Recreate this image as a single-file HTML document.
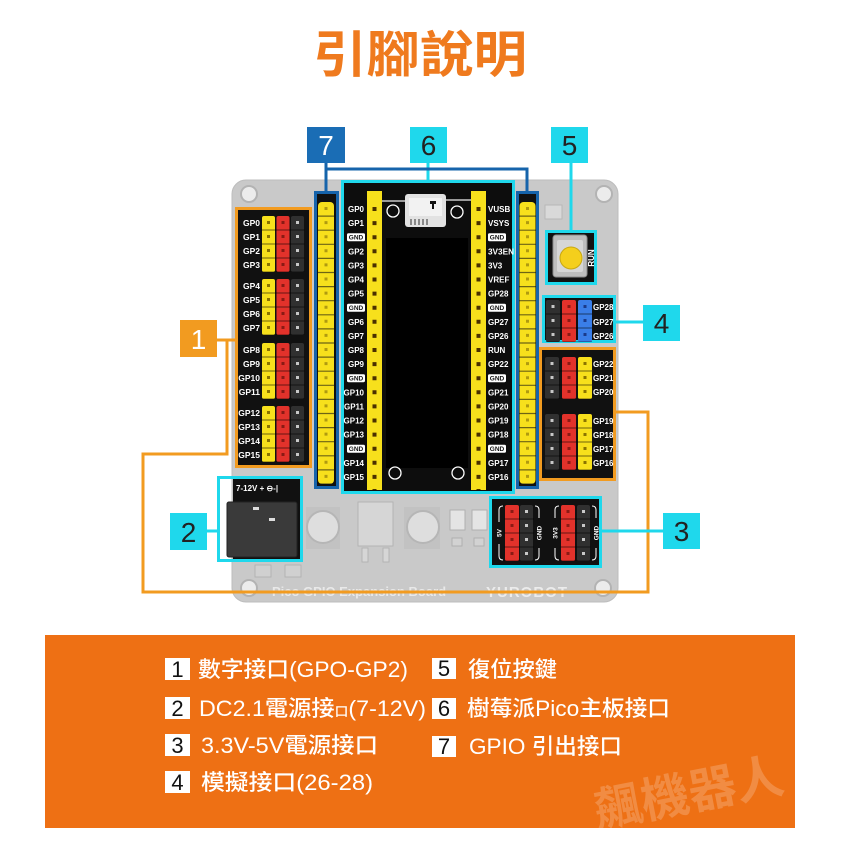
<!DOCTYPE html>
<html><head><meta charset="utf-8">
<style>
html,body{margin:0;padding:0;background:#fff;width:841px;height:841px;overflow:hidden}
svg{display:block}
.pl{font:bold 8.5px "Liberation Sans",sans-serif;fill:#fff}
.pr{font:bold 8px "Liberation Sans",sans-serif;fill:#fff}
.gnd{font:bold 6.5px "Liberation Sans",sans-serif;fill:#111}
.num{font:28px "Liberation Sans",sans-serif}
.lg{font:500 22px "Liberation Sans","Noto Sans CJK TC",sans-serif;fill:#fff}
.ln{font:22px "Liberation Sans",sans-serif;fill:#111}
</style></head><body>
<svg width="841" height="841" viewBox="0 0 841 841">
<rect width="841" height="841" fill="#fff"/>
<!-- Title -->
<text x="313" y="72" textLength="214" lengthAdjust="spacingAndGlyphs" style="font:bold 50px 'Liberation Sans','Noto Sans CJK TC',sans-serif" fill="#ef7a1e">引腳說明</text>

<!-- Board -->
<rect x="232" y="180" width="386" height="422" rx="14" fill="#c9c9c9"/>
<rect x="232" y="180" width="386" height="422" rx="14" fill="none" stroke="#bdbdbd" stroke-width="1"/>
<g fill="#ececec" stroke="#b3b3b3" stroke-width="2">
<circle cx="249" cy="194" r="8"/><circle cx="604" cy="194" r="8"/>
<circle cx="249" cy="588" r="8"/><circle cx="603" cy="588" r="8"/>
</g>
<!-- small component top right -->
<rect x="545" y="205" width="17" height="14" fill="#d9d9d9" stroke="#b8b8b8"/>
<!-- faded components -->
<rect x="306" y="507" width="34" height="42" fill="#c2c2c2"/>
<circle cx="323" cy="527" r="16" fill="#dedede" stroke="#b6b6b6" stroke-width="2"/>
<rect x="404" y="507" width="36" height="42" fill="#c2c2c2"/>
<circle cx="423" cy="527" r="16" fill="#dedede" stroke="#b6b6b6" stroke-width="2"/>
<rect x="358" y="502" width="35" height="44" fill="#d6d6d6" stroke="#b4b4b4"/>
<rect x="362" y="548" width="6" height="14" fill="#d6d6d6" stroke="#b4b4b4"/>
<rect x="383" y="548" width="6" height="14" fill="#d6d6d6" stroke="#b4b4b4"/>
<rect x="450" y="510" width="15" height="20" fill="#e4e4e4" stroke="#b0b0b0"/>
<rect x="472" y="510" width="15" height="20" fill="#e4e4e4" stroke="#b0b0b0"/>
<rect x="452" y="538" width="10" height="8" fill="#d2d2d2" stroke="#b0b0b0"/>
<rect x="474" y="538" width="10" height="8" fill="#d2d2d2" stroke="#b0b0b0"/>
<rect x="255" y="565" width="16" height="12" fill="#d0d0d0" stroke="#b3b3b3"/>
<rect x="285" y="565" width="16" height="12" fill="#d0d0d0" stroke="#b3b3b3"/>
<text x="272" y="596" style="font:bold 13px 'Liberation Sans',sans-serif" fill="#e9e9e9">Pico GPIO Expansion Board</text>
<text x="486" y="597" style="font:bold 15px 'Liberation Sans',sans-serif" fill="#ececec" letter-spacing="1">YUROBOT</text>

<!-- Group 1 (left) -->
<rect x="236.5" y="208.5" width="74" height="258" fill="#111" stroke="#f29b20" stroke-width="3"/>
<g>
<!-- yellow -->
<g fill="#f7e01c"><rect x="262" y="216" width="13" height="56" rx="2"/><rect x="262" y="279" width="13" height="56" rx="2"/><rect x="262" y="343" width="13" height="56" rx="2"/><rect x="262" y="406" width="13" height="56" rx="2"/></g>
<g fill="#e2322b"><rect x="276.5" y="216" width="13" height="56" rx="2"/><rect x="276.5" y="279" width="13" height="56" rx="2"/><rect x="276.5" y="343" width="13" height="56" rx="2"/><rect x="276.5" y="406" width="13" height="56" rx="2"/></g>
<g fill="#303030"><rect x="291" y="216" width="13" height="56" rx="2"/><rect x="291" y="279" width="13" height="56" rx="2"/><rect x="291" y="343" width="13" height="56" rx="2"/><rect x="291" y="406" width="13" height="56" rx="2"/></g>
<g stroke-width="3" stroke-dasharray="3 11">
<g stroke="#8a7400"><line x1="268.5" y1="221" x2="268.5" y2="272"/><line x1="268.5" y1="284" x2="268.5" y2="335"/><line x1="268.5" y1="348" x2="268.5" y2="399"/><line x1="268.5" y1="411" x2="268.5" y2="462"/></g>
<g stroke="#8a1a14"><line x1="283" y1="221" x2="283" y2="272"/><line x1="283" y1="284" x2="283" y2="335"/><line x1="283" y1="348" x2="283" y2="399"/><line x1="283" y1="411" x2="283" y2="462"/></g>
<g stroke="#c8c8c8"><line x1="297.5" y1="221" x2="297.5" y2="272"/><line x1="297.5" y1="284" x2="297.5" y2="335"/><line x1="297.5" y1="348" x2="297.5" y2="399"/><line x1="297.5" y1="411" x2="297.5" y2="462"/></g>
</g>
<g stroke="#000" stroke-opacity=".55" stroke-width="43" stroke-dasharray="1 13">
<line x1="283" y1="229.5" x2="283" y2="272"/><line x1="283" y1="292.5" x2="283" y2="335"/><line x1="283" y1="356.5" x2="283" y2="399"/><line x1="283" y1="419.5" x2="283" y2="462"/>
</g>
</g>
<g class="pl" text-anchor="end">
<text x="260" y="226">GP0</text><text x="260" y="240">GP1</text><text x="260" y="254">GP2</text><text x="260" y="268">GP3</text>
<text x="260" y="289">GP4</text><text x="260" y="303">GP5</text><text x="260" y="317">GP6</text><text x="260" y="331">GP7</text>
<text x="260" y="353">GP8</text><text x="260" y="367">GP9</text><text x="260" y="381">GP10</text><text x="260" y="395">GP11</text>
<text x="260" y="416">GP12</text><text x="260" y="430">GP13</text><text x="260" y="444">GP14</text><text x="260" y="458">GP15</text>
</g>

<!-- Strips (7) -->
<rect x="315.5" y="192.5" width="22" height="295" fill="#111" stroke="#1664ab" stroke-width="3"/>
<rect x="517.5" y="192.5" width="20" height="295" fill="#111" stroke="#1664ab" stroke-width="3"/>
<rect x="318" y="202" width="16" height="282" rx="4" fill="#f7e01c"/>
<rect x="519.5" y="202" width="16" height="282" rx="4" fill="#f7e01c"/>
<g stroke="#b09a10" stroke-width="3" stroke-dasharray="3 11.1">
<line x1="326" y1="207" x2="326" y2="484"/><line x1="527.5" y1="207" x2="527.5" y2="484"/>
</g>
<g stroke="#111" stroke-opacity=".6" stroke-width="16" stroke-dasharray="1.2 12.9">
<line x1="326" y1="215.5" x2="326" y2="484"/><line x1="527.5" y1="215.5" x2="527.5" y2="484"/>
</g>

<!-- Pico box (6) -->
<rect x="342.5" y="181.5" width="171" height="311" fill="#0d0d0d" stroke="#1fd8ec" stroke-width="3"/>
<rect x="386" y="238" width="82" height="230" fill="#000"/>
<line x1="382" y1="201" x2="405" y2="201" stroke="#eee" stroke-width="1.2"/>
<line x1="446" y1="200" x2="471" y2="200" stroke="#eee" stroke-width="1.2"/>
<rect x="405" y="194" width="41" height="33" rx="3" fill="#e2e2e2"/>
<rect x="409" y="198" width="33" height="18" fill="#f2f2f2"/>
<rect x="430" y="201" width="6" height="3" fill="#111"/><rect x="432" y="203" width="2" height="6" fill="#111"/>
<g fill="#888"><rect x="410" y="219" width="2" height="6"/><rect x="414" y="219" width="2" height="6"/><rect x="418" y="219" width="2" height="6"/><rect x="422" y="219" width="2" height="6"/><rect x="426" y="219" width="2" height="6"/></g>
<g fill="none" stroke="#fff" stroke-width="1.3">
<circle cx="393" cy="211" r="6"/><circle cx="457" cy="212" r="6"/><circle cx="395" cy="473" r="6"/><circle cx="458" cy="473" r="6"/>
</g>
<rect x="367" y="191" width="15" height="299" fill="#f7e01c"/>
<rect x="471" y="191" width="15" height="299" fill="#f7e01c"/>
<g stroke="#4a3000" stroke-width="4" stroke-dasharray="4 10.1">
<line x1="374.5" y1="207" x2="374.5" y2="490"/><line x1="478.5" y1="207" x2="478.5" y2="490"/>
</g>
<g class="pr" text-anchor="end">
<text x="364" y="212">GP0</text><text x="364" y="226.1">GP1</text>
<text x="364" y="254.3">GP2</text><text x="364" y="268.4">GP3</text><text x="364" y="282.5">GP4</text><text x="364" y="296.6">GP5</text>
<text x="364" y="324.8">GP6</text><text x="364" y="338.9">GP7</text><text x="364" y="353">GP8</text><text x="364" y="367.1">GP9</text>
<text x="364" y="395.3">GP10</text><text x="364" y="409.4">GP11</text><text x="364" y="423.5">GP12</text><text x="364" y="437.6">GP13</text>
<text x="364" y="465.8">GP14</text><text x="364" y="479.9">GP15</text>
</g>
<g class="pr">
<text x="488" y="212">VUSB</text><text x="488" y="226.1">VSYS</text>
<text x="488" y="254.3" textLength="26" lengthAdjust="spacingAndGlyphs">3V3EN</text><text x="488" y="268.4">3V3</text><text x="488" y="282.5">VREF</text><text x="488" y="296.6">GP28</text>
<text x="488" y="324.8">GP27</text><text x="488" y="338.9">GP26</text><text x="488" y="353">RUN</text><text x="488" y="367.1">GP22</text>
<text x="488" y="395.3">GP21</text><text x="488" y="409.4">GP20</text><text x="488" y="423.5">GP19</text><text x="488" y="437.6">GP18</text>
<text x="488" y="465.8">GP17</text><text x="488" y="479.9">GP16</text>
</g>
<g fill="#fff">
<rect x="347" y="233.2" width="18" height="8" rx="1.5"/><rect x="347" y="303.7" width="18" height="8" rx="1.5"/><rect x="347" y="374.2" width="18" height="8" rx="1.5"/><rect x="347" y="444.7" width="18" height="8" rx="1.5"/>
<rect x="488" y="233.2" width="18" height="8" rx="1.5"/><rect x="488" y="303.7" width="18" height="8" rx="1.5"/><rect x="488" y="374.2" width="18" height="8" rx="1.5"/><rect x="488" y="444.7" width="18" height="8" rx="1.5"/>
</g>
<g class="gnd" text-anchor="middle">
<text x="356" y="239.6">GND</text><text x="356" y="310.1">GND</text><text x="356" y="380.6">GND</text><text x="356" y="451.1">GND</text>
<text x="497" y="239.6">GND</text><text x="497" y="310.1">GND</text><text x="497" y="380.6">GND</text><text x="497" y="451.1">GND</text>
</g>

<!-- Run button (5) -->
<rect x="546.5" y="231.5" width="49" height="52" fill="#111" stroke="#1fd8ec" stroke-width="3"/>
<rect x="553" y="235" width="34" height="42" rx="3" fill="#bdbdbd" stroke="#8a8a8a"/>
<rect x="557" y="240" width="26" height="32" rx="2" fill="#d6d6d6"/>
<circle cx="571" cy="258" r="11" fill="#f4cf1c" stroke="#c9a810"/>
<text transform="translate(594 258) rotate(-90)" text-anchor="middle" style="font:bold 8px 'Liberation Sans',sans-serif" fill="#fff">RUN</text>

<!-- Box 4 -->
<rect x="543.5" y="296.5" width="71" height="45" fill="#111" stroke="#1fd8ec" stroke-width="3"/>
<rect x="546" y="300" width="14" height="42" rx="2" fill="#303030"/>
<rect x="562" y="300" width="14" height="42" rx="2" fill="#e2322b"/>
<rect x="578" y="300" width="14" height="42" rx="2" fill="#3a7ee8"/>
<g stroke-width="3" stroke-dasharray="3 11">
<line x1="553" y1="305" x2="553" y2="342" stroke="#c8c8c8"/><line x1="569" y1="305" x2="569" y2="342" stroke="#8a1a14"/><line x1="585" y1="305" x2="585" y2="342" stroke="#1a3a8a"/>
</g>
<line x1="569" y1="313.5" x2="569" y2="342" stroke="#000" stroke-opacity=".55" stroke-width="46" stroke-dasharray="1 13"/>
<g class="pr"><text x="593" y="310">GP28</text><text x="593" y="325">GP27</text><text x="593" y="339">GP26</text></g>

<!-- Right orange group -->
<rect x="540.5" y="348.5" width="74" height="131" fill="#111" stroke="#f29b20" stroke-width="3"/>
<g fill="#303030"><rect x="545" y="357" width="14" height="42" rx="2"/><rect x="545" y="414" width="14" height="56" rx="2"/></g>
<g fill="#e2322b"><rect x="562" y="357" width="14" height="42" rx="2"/><rect x="562" y="414" width="14" height="56" rx="2"/></g>
<g fill="#f7e01c"><rect x="578" y="357" width="14" height="42" rx="2"/><rect x="578" y="414" width="14" height="56" rx="2"/></g>
<g stroke-width="3" stroke-dasharray="3 11">
<g stroke="#c8c8c8"><line x1="552" y1="362" x2="552" y2="399"/><line x1="552" y1="419" x2="552" y2="470"/></g>
<g stroke="#8a1a14"><line x1="569" y1="362" x2="569" y2="399"/><line x1="569" y1="419" x2="569" y2="470"/></g>
<g stroke="#8a7400"><line x1="585" y1="362" x2="585" y2="399"/><line x1="585" y1="419" x2="585" y2="470"/></g>
</g>
<g stroke="#000" stroke-opacity=".55" stroke-width="47" stroke-dasharray="1 13">
<line x1="568.5" y1="370.5" x2="568.5" y2="399"/><line x1="568.5" y1="427.5" x2="568.5" y2="470"/>
</g>
<g class="pr"><text x="593" y="367">GP22</text><text x="593" y="381">GP21</text><text x="593" y="395">GP20</text><text x="593" y="424">GP19</text><text x="593" y="438">GP18</text><text x="593" y="452">GP17</text><text x="593" y="466">GP16</text></g>

<!-- DC jack (2) -->
<rect x="233" y="479" width="68" height="81" fill="#111"/>
<text x="236" y="491" style="font:bold 8px 'Liberation Sans',sans-serif" fill="#fff">7-12V + ⊖-|</text>
<rect x="227" y="502" width="70" height="55" rx="2" fill="#3a3a3a" stroke="#222"/>
<rect x="253" y="507" width="6" height="3" fill="#ddd"/><rect x="269" y="518" width="6" height="3" fill="#ddd"/>
<rect x="218.5" y="477.5" width="83" height="83" fill="none" stroke="#1fd8ec" stroke-width="3"/>

<!-- Power (3) -->
<rect x="490.5" y="497.5" width="110" height="69" fill="#111" stroke="#1fd8ec" stroke-width="3"/>
<g fill="#e2322b"><rect x="505" y="505" width="14" height="56" rx="2"/><rect x="561" y="505" width="14" height="56" rx="2"/></g>
<g fill="#303030"><rect x="520" y="505" width="13" height="56" rx="2"/><rect x="577" y="505" width="13" height="56" rx="2"/></g>
<g stroke-width="3" stroke-dasharray="3 11">
<g stroke="#8a1a14"><line x1="512" y1="510" x2="512" y2="561"/><line x1="568" y1="510" x2="568" y2="561"/></g>
<g stroke="#c8c8c8"><line x1="526.5" y1="510" x2="526.5" y2="561"/><line x1="583.5" y1="510" x2="583.5" y2="561"/></g>
</g>
<g stroke="#000" stroke-opacity=".55" stroke-width="30" stroke-dasharray="1 13">
<line x1="519" y1="518.5" x2="519" y2="561"/><line x1="575.5" y1="518.5" x2="575.5" y2="561"/>
</g>
<g fill="none" stroke="#fff" stroke-width="1">
<path d="M503 506 Q499 506 499 510 V522 M499 544 V556 Q499 560 503 560"/>
<path d="M535 506 Q539 506 539 510 V518 M539 548 V556 Q539 560 535 560"/>
<path d="M559 506 Q555 506 555 510 V518 M555 548 V556 Q555 560 559 560"/>
<path d="M592 506 Q596 506 596 510 V518 M596 548 V556 Q596 560 592 560"/>
</g>
<g style="font:bold 6.5px 'Liberation Sans',sans-serif" fill="#fff" text-anchor="middle">
<text transform="translate(501.5 533) rotate(-90)">5V</text>
<text transform="translate(541.5 533) rotate(-90)">GND</text>
<text transform="translate(557.5 533) rotate(-90)">3V3</text>
<text transform="translate(598.5 533) rotate(-90)">GND</text>
</g>

<!-- Connectors -->
<g fill="none" stroke="#f29b20" stroke-width="3">
<path d="M217 340 H237"/>
<path d="M227 340 V454 H143 V592 H648 V412 H615"/>
</g>
<g fill="none" stroke="#1fd8ec" stroke-width="3">
<path d="M207 531 H218"/>
<path d="M601 531 H663"/>
<path d="M615 322 H643"/>
<path d="M571 162 V231"/>
<path d="M428 162 V181"/>
</g>
<g fill="none" stroke="#1664ab" stroke-width="3">
<path d="M326 162 V192"/>
<path d="M326 169 H527 V192"/>
</g>

<!-- Label boxes -->
<rect x="307" y="127" width="38" height="36" fill="#1a6db5"/>
<text x="326" y="155" class="num" text-anchor="middle" fill="#fff">7</text>
<rect x="410" y="127" width="37" height="36" fill="#1fd8ec"/>
<text x="428.5" y="155" class="num" text-anchor="middle" fill="#222">6</text>
<rect x="551" y="127" width="37" height="36" fill="#1fd8ec"/>
<text x="569.5" y="155" class="num" text-anchor="middle" fill="#222">5</text>
<rect x="180" y="320" width="37" height="37" fill="#f29b20"/>
<text x="198.5" y="349" class="num" text-anchor="middle" fill="#fff">1</text>
<rect x="170" y="513" width="37" height="37" fill="#1fd8ec"/>
<text x="188.5" y="542" class="num" text-anchor="middle" fill="#222">2</text>
<rect x="643" y="305" width="37" height="36" fill="#1fd8ec"/>
<text x="661.5" y="333" class="num" text-anchor="middle" fill="#222">4</text>
<rect x="663" y="513" width="37" height="36" fill="#1fd8ec"/>
<text x="681.5" y="541" class="num" text-anchor="middle" fill="#222">3</text>

<!-- Legend panel -->
<rect x="45" y="635" width="750" height="193" fill="#ee7014"/>
<text x="689" y="810" text-anchor="middle" transform="rotate(-11 689 795)" style="font:bold 48px 'Liberation Sans','Noto Sans CJK TC',sans-serif" fill="#fff" fill-opacity=".2">飆機器人</text>
<g fill="#fff">
<rect x="165" y="658" width="25" height="22"/><rect x="165" y="697" width="25" height="22"/>
<rect x="165" y="734" width="25" height="22"/><rect x="165" y="771" width="25" height="22"/>
<rect x="432" y="658" width="24" height="21"/><rect x="432" y="698" width="24" height="21"/><rect x="432" y="736" width="24" height="21"/>
</g>
<g class="ln" text-anchor="middle">
<text x="177.5" y="677">1</text><text x="177.5" y="716">2</text><text x="177.5" y="753">3</text><text x="177.5" y="790">4</text>
<text x="444" y="676">5</text><text x="444" y="716">6</text><text x="444" y="754">7</text>
</g>
<text class="lg" x="198" y="677" textLength="210" lengthAdjust="spacingAndGlyphs">數字接口(GPO-GP2)</text>
<text class="lg" x="199" y="716" textLength="227" lengthAdjust="spacingAndGlyphs">DC2.1電源接<tspan style="font-size:13px">口</tspan>(7-12V)</text>
<text class="lg" x="201" y="753" textLength="177" lengthAdjust="spacingAndGlyphs">3.3V-5V電源接口</text>
<text class="lg" x="201" y="790" textLength="172" lengthAdjust="spacingAndGlyphs">模擬接口(26-28)</text>
<text class="lg" x="468" y="677" textLength="89" lengthAdjust="spacingAndGlyphs">復位按鍵</text>
<text class="lg" x="467" y="716" textLength="203" lengthAdjust="spacingAndGlyphs">樹莓派Pico主板接口</text>
<text class="lg" x="469" y="754" textLength="153" lengthAdjust="spacingAndGlyphs">GPIO 引出接口</text>
</svg>
</body></html>
